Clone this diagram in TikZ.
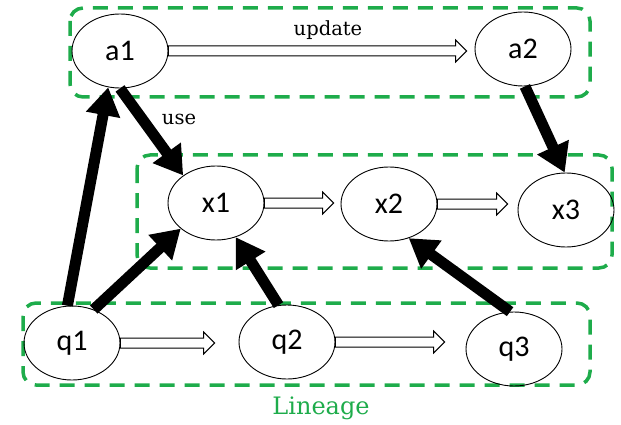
\documentclass[tikz,border=0pt]{standalone}
\usepackage{fontspec}
\setmainfont{DejaVu Serif}
\newfontfamily\nodefont{Carlito}
\usetikzlibrary{shapes.geometric,arrows.meta,calc}
\definecolor{lingreen}{RGB}{30,172,75}
\tikzset{
  state/.style={ellipse,draw,line width=0.9pt,minimum width=96pt,minimum height=74pt,inner sep=0pt,font=\nodefont\fontsize{30}{32}\selectfont},
  group/.style={draw=lingreen,line width=3.5pt,dash pattern=on 15pt off 10pt,rounded corners=13pt},
  bigarrow/.style={line width=11pt,-{Triangle[length=28pt,width=33pt]}},
  hollow/.style={draw,line width=1pt,fill=white},
  lbl/.style={font=\fontsize{19.5}{22}\selectfont}
}
\newcommand\harrow[3]{%
  \draw[hollow] let \p1=(#1.east), \p2=(#2.west) in
   (\x1,\y1+5pt) -- (\x2-#3-11pt,\y1+5pt) -- (\x2-#3-11pt,\y1+11pt) -- (\x2-#3,\y1)
   -- (\x2-#3-11pt,\y1-11pt) -- (\x2-#3-11pt,\y1-5pt) -- (\x1,\y1-5pt) -- cycle;}
\begin{document}
\begin{tikzpicture}[x=1pt,y=-1pt]
\useasboundingbox (0,0) rectangle (621,425);
% groups
\draw[group] (70,8) rectangle (590,97);
\draw[group] (137,155) rectangle (612,268);
\draw[group] (23,303) rectangle (590,385);
% nodes
\node[state] (a1) at (120,51) {a1};
\node[state] (a2) at (523,49) {a2};
\node[state] (x1) at (216,203) {x1};
\node[state] (x2) at (389,204) {x2};
\node[state] (x3) at (566,210) {x3};
\node[state] (q1) at (72,343) {q1};
\node[state] (q2) at (287,342) {q2};
\node[state] (q3) at (514,349) {q3};
% hollow arrows
\harrow{a1}{a2}{8pt}
\harrow{x1}{x2}{7pt}
\harrow{x2}{x3}{10pt}
\harrow{q1}{q2}{24pt}
\harrow{q2}{q3}{21pt}
% labels
\node[lbl] (upd) at (328,30) {update};
\node[lbl] (use) at (179,119) {use};
\node[font=\fontsize{24}{26}\selectfont,text=lingreen] (lin) at (321,408) {Lineage};
% thick arrows
\draw[bigarrow] (q1.97) -- (a1.252);
\draw[bigarrow] (a1.270) -- (x1.140);
\draw[bigarrow] (q1.57) -- (x1.216);
\draw[bigarrow] (q2.103) -- (x1.300);
\draw[bigarrow] (a2.273) -- (x3.92);
\draw[bigarrow] (q3.96) -- (x2.300);
\end{tikzpicture}
\end{document}
